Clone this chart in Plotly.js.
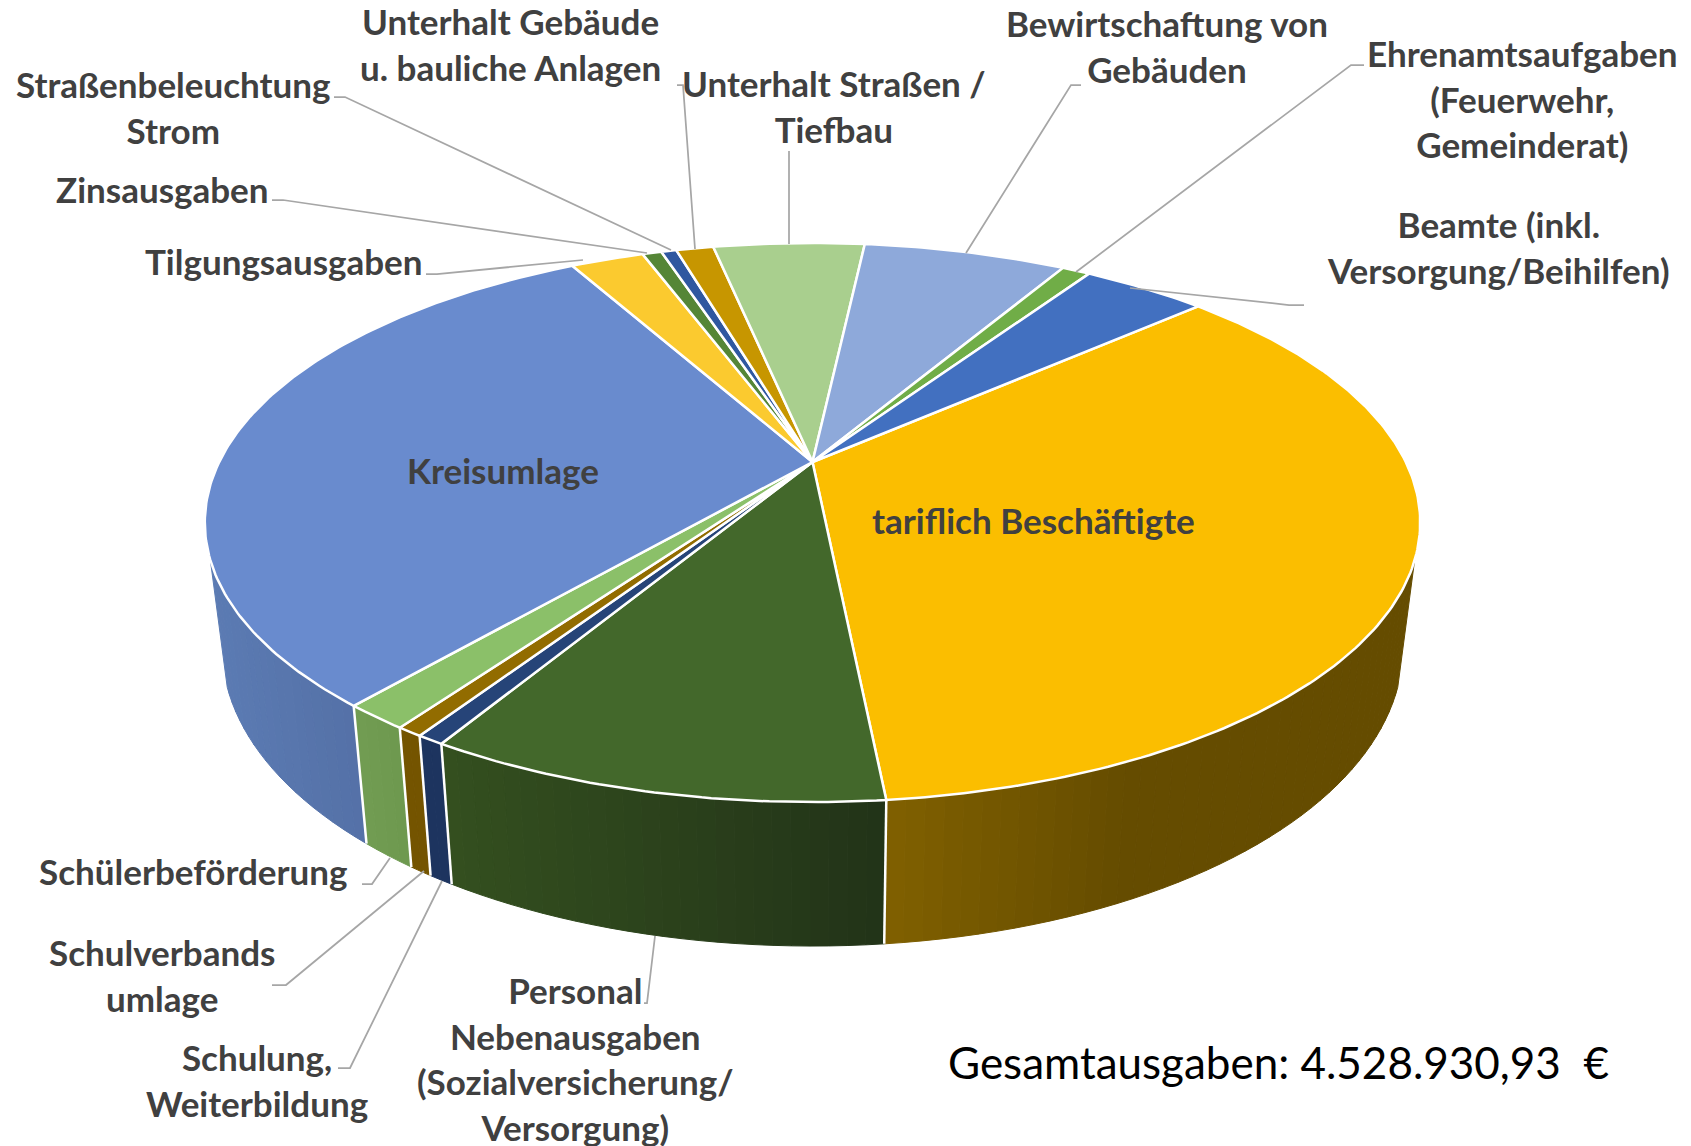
<!DOCTYPE html>
<html>
<head>
<meta charset="utf-8">
<script src="https://cdn.plot.ly/plotly-3.0.1.min.js"></script>
<style>html,body{margin:0;padding:0;background:#fff}#c{width:1691px;height:1146px}</style>
</head>
<body>
<div id="c"></div>
<script>
// Data (clockwise)
const categories = ["tariflich Beschäftigte","Personal Nebenausgaben","Schulung, Weiterbildung","Schulverbandsumlage","Schülerbeförderung","Kreisumlage","Tilgungsausgaben","Zinsausgaben","Straßenbeleuchtung Strom","Unterhalt Gebäude u. bauliche Anlagen","Unterhalt Straßen / Tiefbau","Bewirtschaftung von Gebäuden","Ehrenamtsaufgaben","Beamte"];
const values = [1589400,455400,27700,26400,66700,1396400,108800,28300,22600,55400,224600,301300,41500,184400];
const topColors = ["#fbbe00","#43682b","#264478","#926c00","#8bc069","#698bce","#fbca2f","#558636","#2f58a0","#c79600","#a9cf8e","#8ea9da","#70ad47","#4270c0"];
const wallLeft  = ["#806000","#34501f","#1d345f","#7a5900","#719c52","#5b7bb3",null,null,null,null,null,null,null,null];
const wallRight = ["#654c00","#223318","#1d345f","#745400","#6c974d","#5470a6",null,null,null,null,null,null,null,null];
const wallXL = [886,440,0,0,360,207];
const wallXR = [1130,885,1,1,420,367];
const startAngle = 48.06;

const LBL = [
 {t:"Unterhalt Gebäude<br>u. bauliche Anlagen",x:510,y:44},
 {t:"Straßenbeleuchtung<br>Strom",x:173,y:107},
 {t:"Unterhalt Straßen /<br>Tiefbau",x:834,y:106},
 {t:"Bewirtschaftung von<br>Gebäuden",x:1167,y:46},
 {t:"Ehrenamtsaufgaben<br>(Feuerwehr,<br>Gemeinderat)",x:1522,y:98},
 {t:"Beamte (inkl.<br>Versorgung/Beihilfen)",x:1498,y:247},
 {t:"Zinsausgaben",x:162,y:189},
 {t:"Tilgungsausgaben",x:284,y:261},
 {t:"Kreisumlage",x:503,y:470},
 {t:"tariflich Beschäftigte",x:1033,y:520},
 {t:"Schülerbeförderung",x:193,y:871},
 {t:"Schulverbands<br>umlage",x:162,y:975},
 {t:"Schulung,<br>Weiterbildung",x:257,y:1080},
 {t:"Personal<br>Nebenausgaben<br>(Sozialversicherung/<br>Versorgung)",x:575,y:1058}
];
const LEAD = [
 [[334,97],[345,97],[671,250]],
 [[272,200],[283,200],[647,253]],
 [[426,274],[437,274],[583,260]],
 [[677,85],[683,85],[695,249]],
 [[789,151],[789,244]],
 [[1081,85],[1071,85],[966,253]],
 [[1364,65],[1351,65],[1076,272]],
 [[1304,305],[1289,305],[1130,288]],
 [[362,884],[372,884],[390,858]],
 [[272,985],[286,985],[424,871]],
 [[338,1068],[350,1068],[442,881]],
 [[644,1003],[647,1003],[655,936]]
];

// Projection of the pie disc
const cx=812.5, Yc=462, a=0.2165, p=-166.4, s=593.3;
const bottomScale=0.972;
function proj(deg){
  const r=deg*Math.PI/180, u=Math.sin(r), v=Math.cos(r), w=1+a*v;
  return [cx+s*u/w,(Yc+p*v)/w,v];
}
function projBottom(deg){
  const t=proj(deg);
  return [cx+(t[0]-cx)*bottomScale, t[1]+118-26*t[2]];
}
function hex(c){return [1,3,5].map(i=>parseInt(c.substr(i,2),16));}
function mix(c1,c2,t){
  t=Math.max(0,Math.min(1,t));
  const A=hex(c1),B=hex(c2);
  return "rgb("+A.map((q,i)=>Math.round(q+(B[i]-q)*t)).join(",")+")";
}

const total=values.reduce((m,n)=>m+n,0);
const edges=[startAngle];
values.forEach(n=>edges.push(edges[edges.length-1]+n/total*360));

const traces=[];
// Walls
values.forEach((val,i)=>{
  if(!wallLeft[i])return;
  const A0=Math.max(edges[i],110), A1=Math.min(edges[i+1],250);
  if(A1<=A0)return;
  const n=Math.max(1,Math.ceil((A1-A0)/1.5));
  for(let k=0;k<n;k++){
    const d0=A0+(A1-A0)*k/n, d1=A0+(A1-A0)*(k+1)/n;
    const t0=proj(d0),t1=proj(d1),b0=projBottom(d0),b1=projBottom(d1);
    const xm=(t0[0]+t1[0])/2;
    const col=mix(wallLeft[i],wallRight[i],(xm-wallXL[i])/(wallXR[i]-wallXL[i]));
    traces.push({type:"scatter",mode:"lines",x:[t0[0],t1[0],b1[0],b0[0],t0[0]],y:[t0[1],t1[1],b1[1],b0[1],t0[1]],
      fill:"toself",fillcolor:col,line:{color:col,width:1},hoverinfo:"skip",showlegend:false});
  }
});
// White wall separators
edges.forEach(e=>{
  const d=e>360?e-360:e;
  if(d>=170&&d<=225){
    const t=proj(d),b=projBottom(d);
    traces.push({type:"scatter",mode:"lines",x:[t[0],b[0]],y:[t[1],b[1]],line:{color:"#ffffff",width:2.5},hoverinfo:"skip",showlegend:false});
  }
});
// Top face
values.forEach((val,i)=>{
  const xs=[cx],ys=[Yc];
  const n=Math.max(2,Math.ceil((edges[i+1]-edges[i])/0.75));
  for(let k=0;k<=n;k++){
    const q=proj(edges[i]+(edges[i+1]-edges[i])*k/n);
    xs.push(q[0]);ys.push(q[1]);
  }
  xs.push(cx);ys.push(Yc);
  traces.push({type:"scatter",mode:"lines",name:categories[i],x:xs,y:ys,fill:"toself",fillcolor:topColors[i],
    line:{color:"#ffffff",width:2.5,shape:"linear"},hoverinfo:"name",showlegend:false});
});

const annotations=LBL.map(l=>({text:l.t,x:l.x,y:l.y,xref:"x",yref:"y",showarrow:false,xanchor:"center",yanchor:"middle",align:"center",
  font:{family:"Lato, Carlito, sans-serif",size:35,color:"#404040",weight:700}}));
annotations.push({text:"Gesamtausgaben: 4.528.930,93  €",x:1278,y:1062,xref:"x",yref:"y",showarrow:false,xanchor:"center",yanchor:"middle",
  font:{family:"Lato, sans-serif",size:44,color:"#000000"}});

const shapes=LEAD.map(pts=>({type:"path",path:pts.map((q,i)=>(i?"L":"M")+q[0]+","+q[1]).join(" "),xref:"x",yref:"y",
  line:{color:"#a6a6a6",width:1.75},layer:"above"}));

Plotly.newPlot("c",traces,{
  width:1691,height:1146,margin:{l:0,r:0,t:0,b:0},paper_bgcolor:"#fff",plot_bgcolor:"#fff",showlegend:false,
  xaxis:{range:[0,1691],visible:false,fixedrange:true},
  yaxis:{range:[1146,0],visible:false,fixedrange:true},
  annotations,shapes
},{displayModeBar:false,staticPlot:true});
</script>
</body>
</html>
